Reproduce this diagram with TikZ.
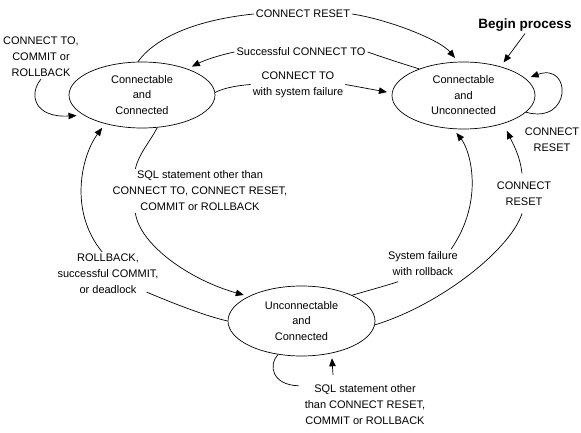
\documentclass[tikz,border=0pt]{standalone}
\usepackage{fontspec}
\setmainfont{Liberation Sans}
\usetikzlibrary{arrows.meta,shapes.geometric}
\begin{document}
\begin{tikzpicture}[x=1pt,y=-1pt,
  st/.style={draw, ellipse, line width=0.7pt, inner sep=0pt, align=center,
             font=\fontsize{11}{15.5}\selectfont},
  lbl/.style={align=center, inner sep=2pt, font=\fontsize{11}{16}\selectfont},
  con/.style={line width=0.7pt},
  arr/.style={con, -{Triangle[length=8pt,width=6.5pt]}, shorten >=5pt}]
\useasboundingbox (0,0) rectangle (581,433);

% states
\node[st, minimum width=146pt, minimum height=66pt] (A) at (142,95) {Connectable\\and\\Connected};
\node[st, minimum width=143pt, minimum height=67pt] (B) at (463.5,95.5) {Connectable\\and\\Unconnected};
\node[st, minimum width=147pt, minimum height=70pt] (C) at (301.5,321) {Unconnectable\\and\\Connected};

% labels
\node[lbl] (crt) at (303,14) {CONNECT RESET};
\node[lbl, font=\fontsize{13.5}{16}\selectfont\bfseries] (bp) at (525,25) {Begin process};
\node[lbl] (cto) at (41,57) {CONNECT TO,\\COMMIT or\\ROLLBACK};
\node[lbl] (suc) at (301,52) {Successful CONNECT TO};
\node[lbl] (ctf) at (298,84.5) {CONNECT TO\\with system failure};
\node[lbl] (crr) at (552,140) {CONNECT\\RESET};
\node[lbl] (sql) at (200,191) {SQL statement other than\\CONNECT TO, CONNECT RESET,\\COMMIT or ROLLBACK};
\node[lbl] (rb) at (108,274) {ROLLBACK,\\successful COMMIT,\\or deadlock};
\node[lbl] (sf) at (423,263.5) {System failure\\with rollback};
\node[lbl] (crm) at (524,193.5) {CONNECT\\RESET};
\node[lbl] (bot) at (365,405) {SQL statement other\\than CONNECT RESET,\\COMMIT or ROLLBACK};

% connectors
\draw[con] (A.97) .. controls (155,38) and (195,20) .. (crt.west);
\draw[arr] (crt.east) .. controls (390,20) and (440,40) .. (B.99);

\draw[con] (B.149) .. controls (400,63) and (385,58) .. (suc.east);
\draw[arr] (suc.west) .. controls (220,55) and (205,60) .. (A.30);

\draw[con] (A.2) .. controls (222,89) and (232,86) .. (ctf.west);
\draw[arr] (ctf.east) -- (B.178);

\draw[arr] (bp.south) -- (B.38);

\draw[arr] (B.-15) .. controls (572,125) and (572,62) .. (B.15);

\draw[arr, shorten >=7pt] (cto.south) .. controls (28,95) and (35,118) .. (A.199);

\draw[con] (A.-65) .. controls (150,142) and (139,153) .. (sql.161);
\draw[arr] (sql.199) .. controls (140,245) and (190,280) .. (C.155);

\draw[con] (C.180) .. controls (205,316) and (170,302) .. ([xshift=-14pt,yshift=4pt]rb.south east);
\draw[arr] (rb.105) .. controls (68,210) and (82,155) .. (A.218);

\draw[con] (C.27) .. controls (370,290) and (385,286) .. ([xshift=12pt,yshift=-4pt]sf.south west);
\draw[arr] ([xshift=-9pt]sf.north east) .. controls (485,200) and (470,150) .. (B.253);

\draw[con] (C.-3) .. controls (440,305) and (510,250) .. ([xshift=-2pt,yshift=-6pt]crm.south);
\draw[arr, shorten >=8pt] ([xshift=-2pt,yshift=6pt]crm.north) .. controls (520,155) and (512,142) .. (B.325);

\draw[con] (C.235) .. controls (268,365) and (272,385) .. ([xshift=-4pt,yshift=-3pt]bot.north west);
\draw[arr] ([xshift=-32pt,yshift=8pt]bot.north) -- (C.-47);
\end{tikzpicture}
\end{document}
